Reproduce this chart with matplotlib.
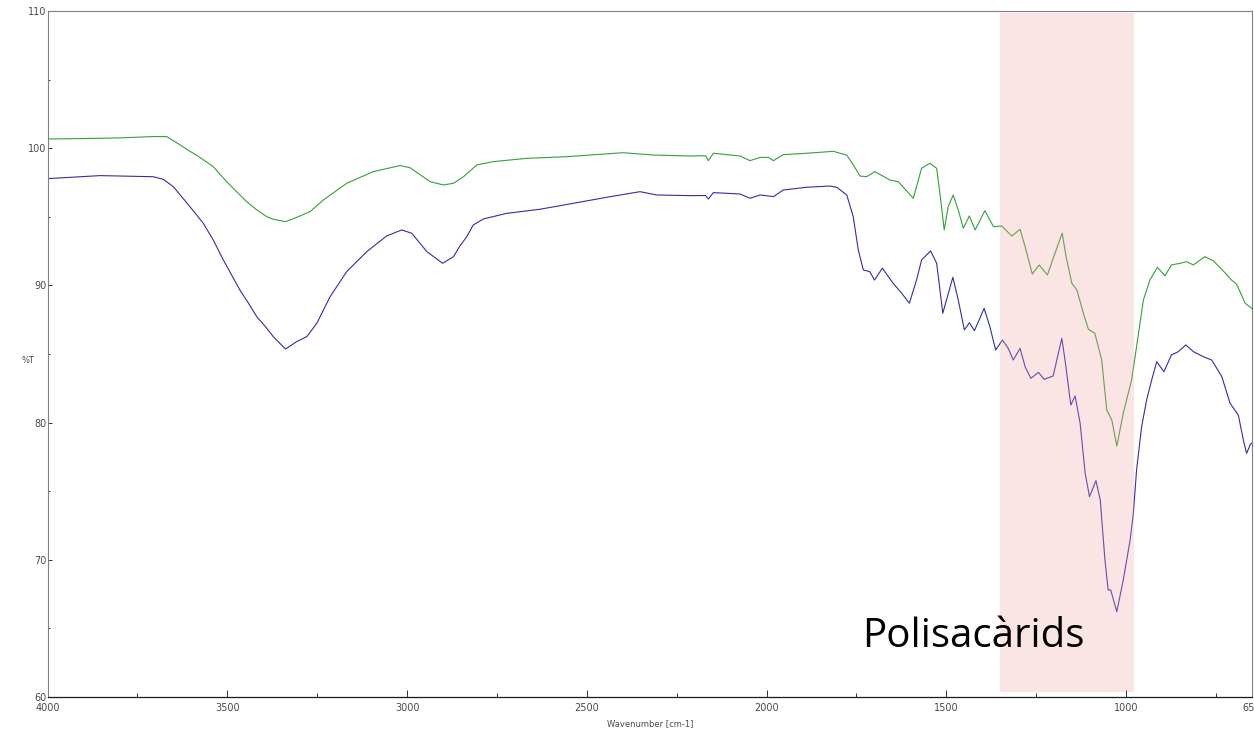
import matplotlib
matplotlib.use("Agg")
import matplotlib.pyplot as plt
from matplotlib.ticker import MultipleLocator, FixedLocator

# spectra (wavenumber cm-1, %T)
green_wn = [4000, 3900, 3800, 3700, 3668, 3631, 3613, 3576, 3539, 3502, 3465, 3446, 3418,
            3390, 3372, 3338, 3307, 3270, 3233, 3168, 3094, 3020, 2992, 2936, 2899, 2871,
            2843, 2806, 2760, 2667, 2556, 2399, 2315, 2213, 2170, 2162, 2148, 2074, 2046,
            2018, 1995, 1981, 1954, 1889, 1814, 1796, 1777, 1759, 1740, 1722, 1699, 1657,
            1634, 1592, 1569, 1546, 1527, 1518, 1506, 1495, 1481, 1467, 1453, 1436, 1420,
            1393, 1369, 1346, 1318, 1295, 1281, 1261, 1242, 1219, 1198, 1178, 1167, 1151,
            1137, 1119, 1105, 1087, 1068, 1054, 1040, 1026, 1008, 985, 971, 952, 934, 913,
            892, 874, 850, 832, 813, 781, 758, 734, 707, 693, 669, 651, 650]
green_t = [100.67, 100.70, 100.75, 100.85, 100.84, 100.23, 99.92, 99.33, 98.65, 97.56,
           96.59, 96.10, 95.50, 95.00, 94.82, 94.64, 94.96, 95.37, 96.22, 97.44, 98.29,
           98.73, 98.58, 97.56, 97.32, 97.44, 97.92, 98.78, 99.02, 99.26, 99.38, 99.67,
           99.50, 99.43, 99.45, 99.09, 99.63, 99.43, 99.09, 99.33, 99.33, 99.09, 99.53,
           99.63, 99.77, 99.63, 99.50, 98.78, 97.97, 97.92, 98.29, 97.68, 97.56, 96.35,
           98.53, 98.90, 98.53, 96.71, 94.04, 95.74, 96.59, 95.50, 94.16, 95.06, 94.04,
           95.44, 94.28, 94.33, 93.60, 94.09, 92.82, 90.83, 91.49, 90.76, 92.34, 93.80,
           92.09, 90.15, 89.66, 87.97, 86.80, 86.51, 84.56, 80.92, 80.19, 78.29, 80.68,
           83.10, 85.53, 88.94, 90.39, 91.32, 90.69, 91.49, 91.61, 91.73, 91.49, 92.09,
           91.80, 91.17, 90.39, 90.10, 88.70, 88.33, 88.30]

blue_wn = [4000, 3854, 3706, 3678, 3650, 3631, 3604, 3567, 3539, 3511, 3488, 3465, 3441,
           3418, 3390, 3372, 3338, 3307, 3279, 3251, 3214, 3168, 3112, 3057, 3015, 2987,
           2945, 2901, 2871, 2853, 2834, 2816, 2788, 2723, 2630, 2538, 2445, 2352, 2306,
           2213, 2170, 2162, 2148, 2074, 2046, 2018, 1981, 1954, 1889, 1824, 1805, 1777,
           1759, 1745, 1731, 1713, 1700, 1678, 1648, 1624, 1603, 1583, 1569, 1544, 1527,
           1510, 1482, 1467, 1450, 1436, 1422, 1395, 1379, 1363, 1344, 1328, 1314, 1295,
           1281, 1265, 1244, 1228, 1203, 1179, 1170, 1154, 1142, 1128, 1114, 1102, 1084,
           1072, 1059, 1050, 1043, 1026, 1008, 989, 980, 971, 957, 943, 929, 915, 895, 874,
           855, 834, 813, 785, 762, 734, 711, 688, 674, 665, 654, 650]
blue_t = [97.78, 98.00, 97.92, 97.73, 97.19, 96.59, 95.74, 94.53, 93.31, 91.85, 90.76,
          89.66, 88.70, 87.72, 86.87, 86.26, 85.36, 85.90, 86.26, 87.24, 89.18, 91.00,
          92.46, 93.60, 94.04, 93.80, 92.46, 91.61, 92.09, 92.87, 93.55, 94.40, 94.84,
          95.25, 95.55, 95.98, 96.42, 96.83, 96.59, 96.54, 96.55, 96.30, 96.76, 96.66,
          96.35, 96.59, 96.47, 96.95, 97.15, 97.24, 97.15, 96.59, 95.00, 92.58, 91.12,
          91.00, 90.39, 91.25, 90.15, 89.42, 88.70, 90.39, 91.85, 92.51, 91.61, 87.97,
          90.59, 88.94, 86.75, 87.28, 86.70, 88.33, 86.99, 85.29, 86.02, 85.41, 84.56,
          85.41, 84.07, 83.23, 83.66, 83.15, 83.40, 86.14, 84.56, 81.28, 81.94, 79.95,
          76.31, 74.60, 75.77, 74.36, 69.99, 67.80, 67.80, 66.22, 68.53, 71.44, 73.39,
          76.55, 79.70, 81.65, 83.10, 84.44, 83.71, 84.93, 85.17, 85.66, 85.17, 84.80,
          84.56, 83.35, 81.41, 80.55, 78.73, 77.76, 78.44, 78.50]

band_lo, band_hi = 978, 1350
band_label = "Polisacàrids"

small_font = ['Liberation Sans Narrow', 'DejaVu Sans']
grey = '#4a4a4a'

fig = plt.figure(figsize=(12.54, 7.31), dpi=100)
ax = fig.add_axes([0.0379, 0.0465, 0.9605, 0.9385])

ax.plot(green_wn, green_t, color='#35a035', lw=0.8, zorder=2)
ax.plot(blue_wn, blue_t, color='#2f2fa8', lw=0.8, zorder=2)

# pink band sits on top of the traces, slightly transparent
ax.axvspan(band_lo, band_hi, ymin=0.007, ymax=0.997, color='#f4a0a0', alpha=0.28,
           lw=0, zorder=3)
ax.text(1735, 63.64, band_label, fontsize=29, family=['Open Sans', 'DejaVu Sans'],
        color='black', ha='left', va='baseline', zorder=4)

ax.set_xlim(4000, 650)
ax.set_ylim(60, 110)

ax.xaxis.set_major_locator(FixedLocator([4000, 3500, 3000, 2500, 2000, 1500, 1000, 650]))
ax.xaxis.set_minor_locator(FixedLocator([3750, 3250, 2750, 2250, 1750, 1250, 750]))
ax.yaxis.set_major_locator(MultipleLocator(10))
ax.yaxis.set_minor_locator(MultipleLocator(5))

ax.tick_params(axis='x', which='major', direction='in', length=5, width=0.7,
               color='#333333', pad=4, labelsize=7, labelcolor=grey)
ax.tick_params(axis='x', which='minor', direction='in', length=3, width=0.7, color='#333333')
ax.tick_params(axis='y', which='major', direction='in', length=3, width=0.7,
               color='#333333', pad=1, labelsize=7, labelcolor=grey)
ax.tick_params(axis='y', which='minor', direction='in', length=1.5, width=0.7, color='#333333')
for lab in ax.get_xticklabels() + ax.get_yticklabels():
    lab.set_family(small_font)

ax.set_xlabel('Wavenumber [cm-1]', fontsize=6, family=small_font, color=grey)
ax.xaxis.set_label_coords(0.5, -0.039)
ax.xaxis.label.set_va('center')
ax.set_ylabel('%T', fontsize=6, family=small_font, color=grey, rotation=0)
ax.yaxis.set_label_coords(-0.0162, 0.491)
ax.yaxis.label.set_va('center')
ax.yaxis.label.set_ha('center')

for side in ['top', 'left', 'right']:
    ax.spines[side].set_color('#808080')
    ax.spines[side].set_linewidth(0.8)
ax.spines['bottom'].set_color('#1a1a1a')
ax.spines['bottom'].set_linewidth(0.9)

fig.savefig('out.png', dpi=100)
